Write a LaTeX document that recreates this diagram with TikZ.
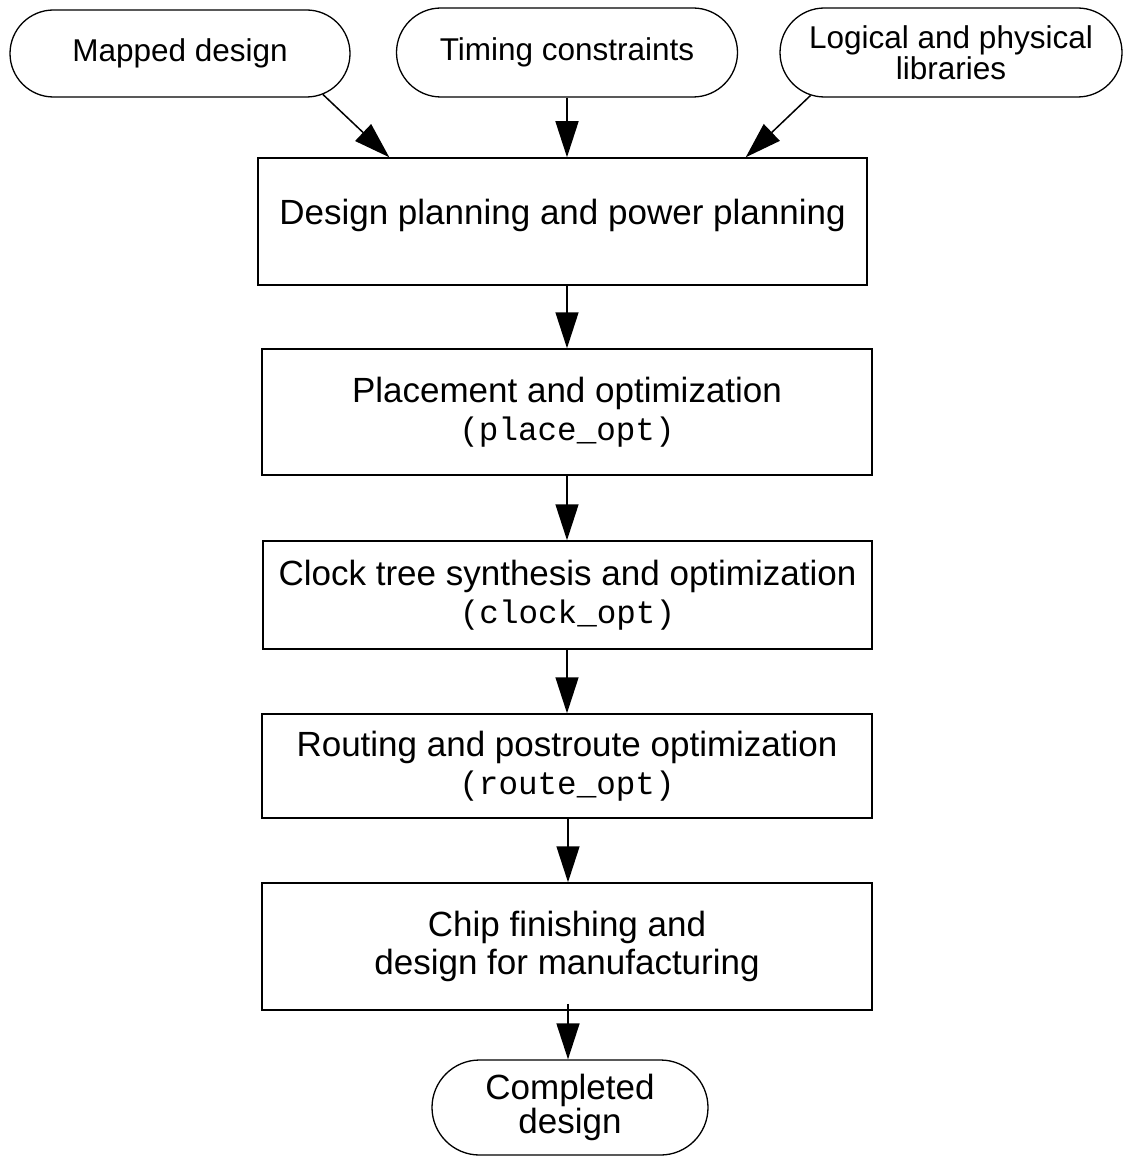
\documentclass[tikz,border=0pt]{standalone}
\usepackage{fontspec}
\setmainfont{Liberation Sans}
\setmonofont{Liberation Mono}
\usetikzlibrary{shapes.misc,arrows.meta,calc}
\newcommand{\cmd}[1]{{\fontsize{32.6}{38}\selectfont\texttt{#1}}}
\begin{document}
\begin{tikzpicture}[x=1pt,y=-1pt,
  every node/.style={align=center,inner sep=0pt,text=black},
  terminal/.style={draw,line width=1.3pt,rounded rectangle,
    font=\fontsize{31.5}{31}\selectfont},
  stepbox/.style={draw,line width=1.5pt,rectangle,minimum width=610pt,
    font=\fontsize{35}{38}\selectfont},
  arr/.style={line width=1.5pt,-{Triangle[length=36pt,width=23pt]}}]
  \useasboundingbox (0,0) rectangle (1126,1158);

  % inputs
  \node[terminal,minimum width=340pt,minimum height=87pt] (md) at (180,53.5) {Mapped design};
  \node[terminal,minimum width=341pt,minimum height=89pt] (tc) at (567,52.5) {Timing constraints};
  \node[terminal,minimum width=342pt,minimum height=89pt] (lib) at (951,52.5) {Logical and physical\\libraries};

  % flow steps
  \node[stepbox,minimum width=609pt,minimum height=127pt] (d1) at (562.5,221.5) {};
  \node (t1) at ($(d1)+(0,-6)$) {\fontsize{35}{38}\selectfont Design planning and power planning};
  \node[stepbox,minimum height=126pt] (d2) at (567,412) {Placement and optimization\\\cmd{(place\_opt)}};
  \node[stepbox,minimum width=609pt,minimum height=108pt] (d3) at (567.5,595) {Clock tree synthesis and optimization\\\cmd{(clock\_opt)}};
  \node[stepbox,minimum height=104pt] (d4) at (567,766) {Routing and postroute optimization\\\cmd{(route\_opt)}};
  \node[stepbox,minimum height=127pt] (d5) at (567,946.5) {Chip finishing and\\design for manufacturing};

  % output
  \node[terminal,minimum width=276pt,minimum height=95pt,
        font=\fontsize{35}{32}\selectfont] (cd) at (570,1107.5) {Completed\\design};

  % connector ends
  \coordinate (e1) at ($(d1.north west)+(132,0)$);
  \coordinate (e3) at ($(d1.north east)+(-122,0)$);
  \coordinate (s4) at ($(d4.south)+(1,0)$);
  \coordinate (e4) at ($(d5.north)+(1,0)$);
  \coordinate (s5) at ($(d5.south)+(1,-7)$);
  \coordinate (e5) at (s5 |- cd.north);

  % connectors
  \draw[arr] (md.-16) -- (e1);
  \draw[arr] (tc.south) -- (tc.south |- d1.north);
  \draw[arr] (lib.197) -- (e3);
  \draw[arr] (d1.south -| d2.north) -- (d2.north);
  \draw[arr] (d2.south) -- (d3.north -| d2.south);
  \draw[arr] (d3.south -| d2.south) -- (d4.north -| d2.south);
  \draw[arr] (s4) -- (e4);
  \draw[arr] (s5) -- (e5);
\end{tikzpicture}
\end{document}
